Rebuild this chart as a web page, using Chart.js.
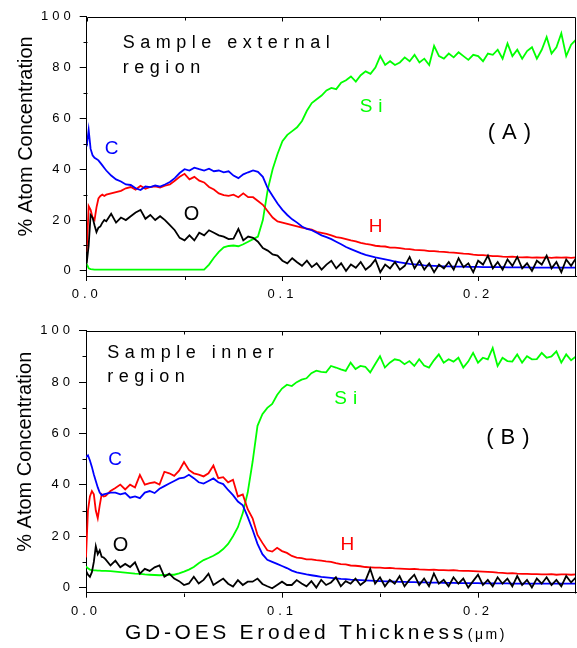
<!DOCTYPE html>
<html><head><meta charset="utf-8">
<script src="https://cdn.jsdelivr.net/npm/chart.js@4.4.1/dist/chart.umd.min.js"></script>
<style>
html,body{margin:0;padding:0;background:#fff;}
#wrap{width:577px;height:648px;position:relative;overflow:hidden;}
canvas{display:block;}
</style></head><body>
<div id="wrap">
<canvas id="cA" width="577" height="318"></canvas>
<canvas id="cB" width="577" height="330"></canvas>
</div>
<script>
// ---- shared depth axis (µm) ----
const depth = [0,0.001,0.002,0.003,0.004,0.005,0.006,0.007,0.008,0.009,
 0.0100,0.0125,0.0150,0.0175,0.0200,0.0225,0.0250,0.0275,0.0300,0.0325,
 0.0350,0.0375,0.0400,0.0425,0.0450,0.0475,0.0500,0.0525,0.0550,0.0575,
 0.0600,0.0625,0.0650,0.0675,0.0700,0.0725,0.0750,0.0775,0.0800,0.0825,
 0.0850,0.0875,0.0900,0.0925,0.0950,0.0975,0.1000,0.1025,0.1050,0.1075,
 0.1100,0.1125,0.1150,0.1175,0.1200,0.1225,0.1250,0.1275,0.1300,0.1325,
 0.1350,0.1375,0.1400,0.1425,0.1450,0.1475,0.1500,0.1525,0.1550,0.1575,
 0.1600,0.1625,0.1650,0.1675,0.1700,0.1725,0.1750,0.1775,0.1800,0.1825,
 0.1850,0.1875,0.1900,0.1925,0.1950,0.1975,0.2000,0.2025,0.2050,0.2075,
 0.2100,0.2125,0.2150,0.2175,0.2200,0.2225,0.2250,0.2275,0.2300,0.2325,
 0.2350,0.2375,0.2400,0.2425,0.2450,0.2475,0.2500];

// ---- Panel A : sample external region ----
const carbonA = [49,55.5,48,45.5,44.5,44,43.5,42.5,41.5,40.5,
 39.5,37.5,36,35.2,34,33.8,32.5,31.8,33.2,33,
 33.6,33.2,34,35,36.5,38.5,40,39.5,40.6,40,
 39.5,40.2,39.2,39.5,38.8,39.2,37.5,36.5,38,38.8,
 39.5,39,37,32.5,29.5,26.5,24,22,20.3,19,
 17.5,16.5,16,15,14,13.3,12.5,11.5,10.5,9.4,
 8.6,7.8,7,6.3,5.8,5.3,4.9,4.5,4.1,3.7,
 3.4,3.1,2.8,2.6,2.4,2.2,2.1,2,1.9,1.8,
 1.8,1.7,1.7,1.7,1.6,1.6,1.6,1.5,1.5,1.5,
 1.5,1.5,1.4,1.4,1.4,1.4,1.4,1.3,1.3,1.3,
 1.3,1.3,1.3,1.3,1.3,1.3,1.3];
const hydrogenA = [7.5,25.5,24,21,20,25,28.5,29.5,30,29.5,
 30,30.5,31,31.5,32.5,33,32,33.5,32.3,33,
 33.3,32.8,33.5,34,35.5,37,38.2,36,37,35.5,
 34.8,33,32,30.5,29.8,29.5,30,29,30.5,29,
 29,27.5,26,23.5,21,19.5,19,18.5,18,17.5,
 17,16.6,16.2,15.4,15,14.6,14,13.3,13,12.5,
 12,11.6,11,10.6,10.3,9.9,9.7,9.6,9.2,9.2,
 9,8.7,8.6,8.3,8.2,8.1,7.8,7.8,7.6,7.5,
 7.3,7.2,7,6.8,6.7,6.4,6.2,6.2,6,5.8,
 5.8,5.6,5.5,5.6,5.4,5.3,5.4,5.2,5.3,5.2,
 5.3,5.1,5.3,5.2,5.3,5.1,5.3];
const oxygenA = [3,10,22,21,18,15.3,17,17.5,19,20,
 19.5,22.5,19,21,20,21.5,23,24,20.5,22,
 20,21.5,20,18,16,13,12,14,12,15,
 14,16,15,14,13.5,12.5,12.7,16.5,12,13.5,
 13,11.5,9,8,6.5,6,4,3,5,3.4,
 2,4,1.5,3,0.5,2.5,4,1,3,0,
 2.5,1.2,3.5,0.5,2,4.5,-0.5,2.5,1,3.5,
 0.5,2,5.5,1,4,0.5,3,-0.5,2.5,1,
 3.5,0.5,5,1.5,3,-0.5,4,2.5,6,1,
 3.5,0.5,4.5,2,5.5,1,3,0,4,2.5,
 6,1,3.5,-0.5,4.5,2,5];
const siliconA = [2.8,1,0.7,0.6,0.5,0.5,0.5,0.5,0.5,0.5,
 0.5,0.5,0.5,0.5,0.5,0.5,0.5,0.5,0.5,0.5,
 0.5,0.5,0.5,0.5,0.5,0.5,0.5,0.5,0.5,0.5,
 0.5,2.5,5.2,7.5,9.3,9.8,10,9.7,10.5,11.5,
 12.5,13.5,20,32,40,46,51,53.5,55,56.5,
 59,63,66,67.5,69,71,72,71.5,74,75,
 76.5,74.5,77,78.5,77.5,80,84.5,81,82.5,81,
 82,84,82.5,85,82,83.5,81,88.5,84.5,83.5,
 85.5,84,86,84.5,83,85,84.5,82.5,85.5,85,
 87,83.5,89.5,84.5,87,83.5,86.5,88,83.5,87,
 92,85.5,88,93.5,84.5,89,91];

// ---- Panel B : sample inner region ----
const carbonB = [50.8,51.5,49.5,47,44,41.5,39,37,36,36.3,
 36.5,37,37,36.3,36.8,35,35.5,34.8,37,37.6,
 36.8,38.5,39.5,40.5,41.5,42.5,42.8,43.9,42.6,41,
 40.5,41.5,42.5,41,40.3,38,36,33.5,32,27.5,
 22.5,17,13,10.8,10,9.2,8.4,7.6,6.6,5.9,
 5.5,5.1,4.8,4.5,4.2,4,3.8,3.6,3.4,3.3,
 3.1,3,2.9,2.8,2.7,2.6,2.5,2.4,2.4,2.3,
 2.2,2.2,2.1,2.1,2,2,1.9,1.9,1.9,1.8,
 1.8,1.8,1.7,1.7,1.7,1.7,1.7,1.6,1.6,1.6,
 1.6,1.6,1.6,1.5,1.5,1.5,1.5,1.5,1.5,1.5,
 1.5,1.5,1.5,1.5,1.5,1.5,1.5];
const hydrogenB = [11.7,30,35.5,37.6,36.3,30,27,32,36.3,35.5,
 35.7,37.6,38.8,40.1,38.2,40.1,39,43.9,40.1,40.7,
 41,40.1,45.1,44.5,43.5,45.5,48.9,45.8,44.5,44,
 43.3,44.5,47.5,42.6,43,41,42,35.5,36.3,30.5,
 27,20.5,17.4,14.5,14,15.5,14.2,13.5,12.3,11.7,
 11.5,11,11,10.7,10.5,10.2,10,9.5,9.1,9,
 8.6,8.5,8.3,8,7.9,7.8,7.8,7.6,7.7,7.5,
 7.4,7.3,7.2,7.3,7.1,7,6.9,7,6.8,6.8,
 6.7,6.8,6.6,6.5,6.5,6.4,6.3,6.2,6.1,6,
 5.8,5.7,5.5,5.6,5.4,5.3,5.3,5.2,5.2,5.1,
 5.1,5.2,5,5.1,5.1,5,5.1];
const oxygenB = [6.5,5,4.2,6,10,16.1,13,14.5,12,11.7,
 11,8.6,10.5,7.9,9.2,8,9.8,5.4,7.3,6.5,
 7.9,8.6,4.2,5.4,3.5,2.5,1,1.6,4.2,1.6,
 3,5.4,1,2.3,3.5,1.5,0.4,2.9,1,2.3,
 2.3,3.5,1.4,0.5,-0.3,1,2.3,1,1,2.9,
 1.6,0.5,2.5,0,3,1,2,4,0.5,2.5,
 1.5,3.5,1,2.5,7.3,1.5,4,0.5,3,1.5,
 4.5,0.5,3,5,1,3.5,0.5,5.5,1.5,3,
 0.5,4,1.5,3.5,0,2.5,5,1,3,0.5,
 4,1.5,3.5,0.5,4.5,1,3,0,3.5,1.5,
 4,1,3,0.5,4.5,2,4];
const siliconB = [8.2,7.5,7,6.8,6.7,6.7,6.6,6.6,6.5,6.5,
 6.5,6.4,6.2,6,5.8,5.6,5.4,5.3,5.1,5,
 4.9,4.8,4.9,5,5,5.5,6.2,7,8,9.5,
 10.7,11.5,12.4,13.5,15,17,20,23.5,29,37,
 49,63,67.5,70,71.5,75,77.5,79,78.5,80,
 81,81.5,83.5,84.5,84,83.8,86.3,85.7,85,84.4,
 87.6,85.1,86.3,86,83.8,87,90.1,85.7,87.6,88.9,
 88.5,87,88.2,86.3,88.9,86.5,85.7,88.5,90.8,87.6,
 88.9,88,89.5,85.7,88,91.4,87.6,89.5,88.9,93.3,
 86.3,89.5,88.2,88,90.8,87.6,90.1,88.9,89,91.4,
 89.5,90,92,87.6,90.8,88.5,90];

// ---- ticks ----
const xTicks = [0, 0.1, 0.2];
const xMinor = [0.05, 0.15];
const yTicks = [0, 20, 40, 60, 80, 100];
const yMinor = [10, 30, 50, 70, 90];

const yTitle = '% Atom Concentration';
const xTitleMain = 'GD-OES Eroded Thickness';
const xTitleUnit = '(\u03BCm)';

const COLORS = {C:'#0000ff', H:'#ff0000', O:'#000000', Si:'#00ff00'};
const FONT = '"Liberation Sans", Arial, Helvetica, sans-serif';

// annotation texts (data coordinates)
const notesA = [
  {text:'Sample external', x:0.0184, y:87.6, color:'#000', size:18, spacing:5.5, align:'left'},
  {text:'region', x:0.0184, y:77.7, color:'#000', size:18, spacing:5.5, align:'left'},
  {text:'C', x:0.0127, y:45.9, color:COLORS.C, size:19, spacing:0, align:'center'},
  {text:'O', x:0.0535, y:20.0, color:'#000', size:20, spacing:0, align:'center'},
  {text:'Si', x:0.1453, y:62.5, color:COLORS.Si, size:19, spacing:6, align:'center'},
  {text:'H', x:0.1476, y:15.2, color:COLORS.H, size:19, spacing:0, align:'center'},
  {text:'(A)', x:0.216, y:51.7, color:'#000', size:22, spacing:7, align:'center'}
];
const notesB = [
  {text:'Sample inner', x:0.0108, y:89.5, color:'#000', size:18, spacing:5.5, align:'left'},
  {text:'region', x:0.0108, y:80.0, color:'#000', size:18, spacing:5.5, align:'left'},
  {text:'C', x:0.0148, y:47.6, color:COLORS.C, size:19, spacing:0, align:'center'},
  {text:'O', x:0.0176, y:14.2, color:'#000', size:20, spacing:0, align:'center'},
  {text:'Si', x:0.1325, y:71.5, color:COLORS.Si, size:19, spacing:6, align:'center'},
  {text:'H', x:0.1333, y:14.5, color:COLORS.H, size:19, spacing:0, align:'center'},
  {text:'(B)', x:0.2152, y:55.9, color:'#000', size:22, spacing:7, align:'center'}
];

// tick labels in the original are typeset with wide letter spacing
const spacingPlugin = {
  id: 'spacing',
  beforeUpdate(chart){ chart.ctx.letterSpacing = '4px'; },
  beforeLayout(chart){ chart.ctx.letterSpacing = '4px'; },
  beforeDraw(chart){ chart.ctx.letterSpacing = '4px'; }
};

const framePlugin = {
  id: 'frame',
  afterDraw(chart){
    const {ctx, chartArea:a, scales:{x, y}} = chart;
    const r = v => Math.round(v) + 0.5;
    ctx.save();
    ctx.strokeStyle = '#000';
    ctx.lineWidth = 1;
    ctx.beginPath();
    ctx.moveTo(r(a.left), r(a.top)); ctx.lineTo(r(a.right) - 1, r(a.top)); ctx.lineTo(r(a.right) - 1, r(a.bottom));
    xTicks.forEach(v => { const p = r(x.getPixelForValue(v)); ctx.moveTo(p, r(a.top)); ctx.lineTo(p, r(a.top) + 4); });
    xMinor.forEach(v => { const p = r(x.getPixelForValue(v)); ctx.moveTo(p, r(a.top)); ctx.lineTo(p, r(a.top) + 3);
                          ctx.moveTo(p, r(a.bottom)); ctx.lineTo(p, r(a.bottom) + 3.5); });
    yMinor.forEach(v => { const p = r(y.getPixelForValue(v)); ctx.moveTo(r(a.left), p); ctx.lineTo(r(a.left) - 4, p); });
    ctx.stroke();
    ctx.restore();
  }
};

const notesPlugin = {
  id: 'notes',
  afterDraw(chart, args, opts){
    const {ctx, chartArea:a, scales:{x, y}} = chart;
    ctx.save();
    ctx.textBaseline = 'alphabetic';
    (opts.items || []).forEach(n => {
      ctx.font = n.size + 'px ' + FONT;
      ctx.letterSpacing = n.spacing + 'px';
      ctx.fillStyle = n.color;
      ctx.textAlign = n.align;
      const dx = n.align === 'center' ? n.spacing / 2 : 0;
      ctx.fillText(n.text, x.getPixelForValue(n.x) + dx, y.getPixelForValue(n.y));
    });
    // y axis title
    ctx.save();
    ctx.font = '20px ' + FONT;
    ctx.letterSpacing = '0px';
    ctx.fillStyle = '#000';
    ctx.textAlign = 'center';
    ctx.translate(a.left - 55, (a.top + a.bottom) / 2 - 10);
    ctx.rotate(-Math.PI / 2);
    ctx.fillText(yTitle, 0, 0);
    ctx.restore();
    // x axis title
    if (opts.xTitle) {
      const left = a.left + 39, base = a.bottom + 46.6;
      ctx.fillStyle = '#000';
      ctx.textAlign = 'left';
      ctx.font = '21px ' + FONT;
      ctx.letterSpacing = '3.7px';
      ctx.fillText(xTitleMain, left, base);
      const w = ctx.measureText(xTitleMain).width;
      ctx.font = '14px ' + FONT;
      ctx.letterSpacing = '2.5px';
      ctx.fillText(xTitleUnit, left + w + 1, base);
    }
    ctx.restore();
  }
};

function makePanel(id, series, notes, lay) {
  const ds = series.map(s => ({
    label: s.name,
    data: depth.map((d, i) => ({x: d, y: s.values[i]})),
    borderColor: s.color,
    borderWidth: 1.8,
    pointRadius: 0,
    tension: 0,
    fill: false
  }));
  return new Chart(document.getElementById(id), {
    type: 'line',
    data: {datasets: ds},
    options: {
      responsive: false,
      animation: false,
      events: [],
      layout: {padding: {left: 0, right: 1, top: lay.top, bottom: 0}},
      plugins: {
        legend: {display: false},
        tooltip: {enabled: false},
        notes: {items: notes, xTitle: lay.xTitle}
      },
      scales: {
        x: {
          type: 'linear', min: 0, max: 0.25,
          afterBuildTicks: s => { s.ticks = xTicks.map(v => ({value: v})); },
          afterFit: s => { s.height = lay.xh; },
          ticks: {callback: v => Number(v).toFixed(1), font: {family: FONT, size: 13}, color: '#000', padding: 6, maxRotation: 0, autoSkip: false},
          grid: {drawOnChartArea: false, drawTicks: true, tickLength: 5, color: '#000', tickColor: '#000', tickWidth: 1},
          border: {display: true, color: '#000', width: 1}
        },
        y: {
          type: 'linear', min: -2, max: 100,
          afterBuildTicks: s => { s.ticks = yTicks.map(v => ({value: v})); },
          afterFit: s => { s.width = lay.yw; },
          ticks: {callback: v => String(v), font: {family: FONT, size: 13}, color: '#000', padding: 5, autoSkip: false},
          grid: {drawOnChartArea: false, drawTicks: true, tickLength: 7, color: '#000', tickColor: '#000', tickWidth: 1},
          border: {display: true, color: '#000', width: 1}
        }
      }
    },
    plugins: [spacingPlugin, framePlugin, notesPlugin]
  });
}

makePanel('cA', [
  {name: 'O', values: oxygenA, color: COLORS.O},
  {name: 'C', values: carbonA, color: COLORS.C},
  {name: 'H', values: hydrogenA, color: COLORS.H},
  {name: 'Si', values: siliconA, color: COLORS.Si}
], notesA, {top: 16.7, xh: 42, yw: 86.7, xTitle: false});

makePanel('cB', [
  {name: 'O', values: oxygenB, color: COLORS.O},
  {name: 'C', values: carbonB, color: COLORS.C},
  {name: 'H', values: hydrogenB, color: COLORS.H},
  {name: 'Si', values: siliconB, color: COLORS.Si}
], notesB, {top: 6.7, xh: 55.3, yw: 86, xTitle: true});
</script>
</body></html>
